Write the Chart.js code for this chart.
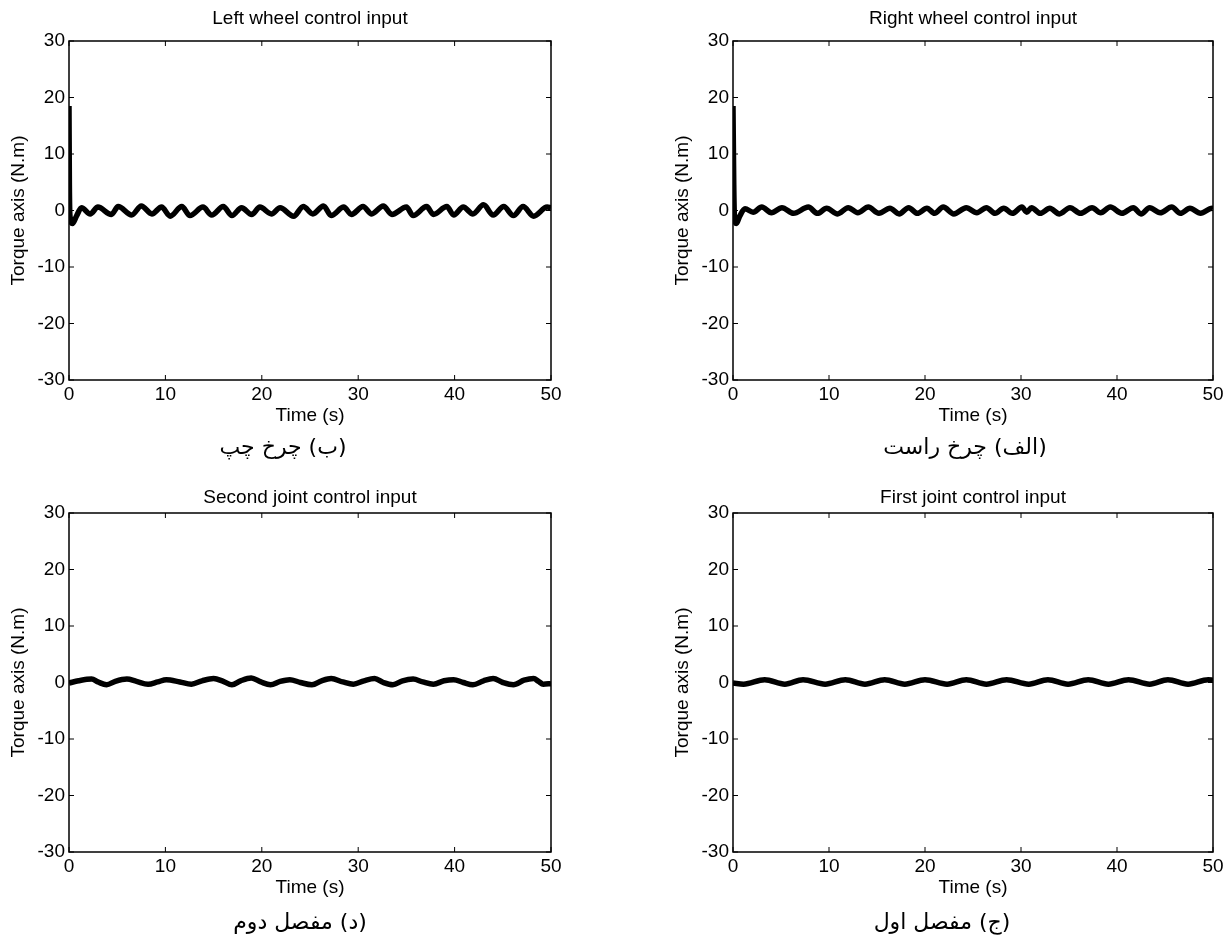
<!DOCTYPE html>
<html>
<head>
<meta charset="utf-8">
<script src="https://cdn.jsdelivr.net/npm/chart.js@4.4.1/dist/chart.umd.min.js"></script>
<style>
  html, body { margin: 0; padding: 0; background: #fff; }
  body { width: 1232px; height: 945px; position: relative; overflow: hidden; }
  canvas { position: absolute; }
  .cap { position: absolute; width: 300px; text-align: center; font-family: 'DejaVu Sans', sans-serif; font-size: 22px; line-height: 26px; color: #000; }
</style>
</head>
<body>
<canvas id="c1" width="616" height="472" style="left:0px;top:0px"></canvas>
<canvas id="c2" width="568" height="472" style="left:664px;top:0px"></canvas>
<canvas id="c3" width="616" height="473" style="left:0px;top:472px"></canvas>
<canvas id="c4" width="568" height="473" style="left:664px;top:472px"></canvas>
<div class="cap" dir="rtl" style="left:133px;top:434px">(ب) چرخ چپ</div>
<div class="cap" dir="rtl" style="left:815px;top:434px">(الف) چرخ راست</div>
<div class="cap" dir="rtl" style="left:150px;top:909px">(د) مفصل دوم</div>
<div class="cap" dir="rtl" style="left:792px;top:909px">(ج) مفصل اول</div>
<script>
// tick values
const xTicks = [0, 10, 20, 30, 40, 50];
const yTicks = [-30, -20, -10, 0, 10, 20, 30];
const titles = ['Left wheel control input', 'Right wheel control input', 'Second joint control input', 'First joint control input'];

// [time (s), torque (N.m)]
const leftWheel = [
  [0, 18.5], [0.04, 4.5], [0.1, -1.0], [0.35, -2.3], [0.8, -0.9],
  [1.3, 0.5], [2.2, -0.6], [3.0, 0.6], [4.4, -0.7], [5.1, 0.7], [6.5, -0.8],
  [7.5, 0.8], [8.6, -0.6], [9.6, 0.6], [10.5, -1.0], [11.7, 0.7], [12.55, -0.9],
  [13.9, 0.6], [14.8, -0.8], [16.0, 0.7], [16.9, -0.9], [17.9, 0.5], [18.95, -0.7],
  [19.8, 0.6], [21.0, -0.6], [21.9, 0.5], [23.3, -1.0], [24.3, 0.7], [25.3, -0.6],
  [26.4, 0.8], [27.2, -0.9], [28.5, 0.6], [29.3, -0.7], [30.5, 0.7], [31.4, -0.6],
  [32.6, 0.8], [33.5, -0.7], [35.0, 0.6], [35.7, -0.9], [37.1, 0.7], [37.8, -0.7],
  [39.2, 0.7], [39.9, -0.8], [40.9, 0.6], [41.9, -0.6], [43.0, 1.0], [44.0, -0.8],
  [45.1, 0.7], [46.1, -0.9], [47.1, 0.7], [48.2, -1.0], [49.6, 0.6], [50, 0.5]
];
const rightWheel = [
  [0, 18.5], [0.08, 4.5], [0.15, -1.0], [0.35, -2.3], [0.7, -1.0],
  [1.25, 0.3], [2.1, -0.3], [3.0, 0.6], [4.0, -0.4], [5.1, 0.5], [6.3, -0.5],
  [7.85, 0.6], [8.8, -0.5], [9.75, 0.4], [10.9, -0.6], [12.0, 0.5], [13.0, -0.4],
  [14.1, 0.6], [15.2, -0.5], [16.35, 0.4], [17.3, -0.6], [18.3, 0.5], [19.2, -0.5],
  [20.2, 0.4], [21.0, -0.5], [21.9, 0.6], [23.0, -0.6], [24.3, 0.5], [25.4, -0.4],
  [26.4, 0.5], [27.3, -0.5], [28.2, 0.4], [29.1, -0.5], [30.1, 0.6], [30.6, -0.3],
  [31.1, 0.5], [32.0, -0.5], [33.0, 0.4], [34.0, -0.6], [35.1, 0.5], [36.2, -0.5],
  [37.4, 0.5], [38.3, -0.4], [39.3, 0.6], [40.5, -0.5], [41.7, 0.5], [42.5, -0.6],
  [43.4, 0.5], [44.5, -0.4], [45.7, 0.6], [46.6, -0.5], [47.6, 0.4], [48.7, -0.5],
  [49.9, 0.4], [50, 0.3]
];
const secondJoint = [
  [0, -0.1], [1.0, 0.3], [2.35, 0.6], [3.0, 0.1], [3.9, -0.4], [4.8, 0.2],
  [6.0, 0.6], [7.0, 0.2], [8.2, -0.3], [9.2, 0.1], [10.1, 0.5], [11.5, 0.1],
  [12.7, -0.3], [13.8, 0.3], [15.0, 0.7], [16.0, 0.2], [16.9, -0.4], [17.8, 0.3],
  [18.9, 0.8], [19.9, 0.1], [20.9, -0.4], [21.9, 0.2], [22.9, 0.5], [24.0, 0.0],
  [25.2, -0.4], [26.2, 0.3], [27.2, 0.7], [28.4, 0.1], [29.5, -0.3], [30.6, 0.3],
  [31.7, 0.7], [32.6, 0.0], [33.6, -0.4], [34.6, 0.3], [35.7, 0.6], [36.7, 0.1],
  [37.8, -0.3], [38.9, 0.3], [39.9, 0.5], [40.9, 0.0], [41.9, -0.4], [43.0, 0.3],
  [44.0, 0.7], [45.0, 0.0], [46.1, -0.4], [47.2, 0.4], [48.2, 0.7], [48.7, 0.2],
  [49.2, -0.3], [50, -0.2]
];
const firstJoint = [
  [0, -0.1], [1.1, -0.3], [3.3, 0.5], [5.4, -0.3], [7.3, 0.5], [9.6, -0.3],
  [11.7, 0.5], [13.75, -0.3], [15.8, 0.5], [17.9, -0.3], [20.0, 0.5], [22.3, -0.3],
  [24.3, 0.5], [26.4, -0.3], [28.5, 0.5], [30.8, -0.3], [32.8, 0.5], [34.9, -0.3],
  [37.0, 0.5], [39.1, -0.3], [41.2, 0.5], [43.4, -0.3], [45.3, 0.5], [47.4, -0.3],
  [49.5, 0.5], [50, 0.4]
];

const FONT = "'Liberation Sans', Arial, sans-serif";
const FS = 19;

// box around the plot with inward ticks on all four sides
const boxTicks = {
  id: 'boxTicks',
  afterDatasetsDraw(chart) {
    const {ctx, chartArea: a, scales: {x, y}} = chart;
    ctx.save();
    ctx.strokeStyle = '#000';
    ctx.lineWidth = 1.5;
    ctx.strokeRect(a.left, a.top, a.right - a.left, a.bottom - a.top);
    ctx.lineWidth = 1;
    ctx.beginPath();
    x.ticks.forEach(t => {
      const px = x.getPixelForValue(t.value);
      ctx.moveTo(px, a.bottom); ctx.lineTo(px, a.bottom - 5);
      ctx.moveTo(px, a.top); ctx.lineTo(px, a.top + 5);
    });
    y.ticks.forEach(t => {
      const py = y.getPixelForValue(t.value);
      ctx.moveTo(a.left, py); ctx.lineTo(a.left + 5, py);
      ctx.moveTo(a.right, py); ctx.lineTo(a.right - 5, py);
    });
    ctx.stroke();
    ctx.restore();
  }
};

function panel(id, title, series, g) {
  const lh = FS * 1.2;
  const padTop = g.titleY - g.cy - lh / 2;
  const padBottom = g.top - g.cy - padTop - lh;
  const canvas = document.getElementById(id);
  new Chart(canvas, {
    type: 'line',
    data: {
      datasets: [{
        data: series.map(p => ({x: p[0], y: p[1]})),
        borderColor: '#000',
        borderWidth: 5.5,
        pointRadius: 0,
        cubicInterpolationMode: 'monotone',
        fill: false
      }]
    },
    options: {
      responsive: false,
      animation: false,
      events: [],
      layout: {padding: {left: 0, top: 0, right: g.cx + g.w - g.right, bottom: g.cy + g.h - g.bottom - 48}},
      plugins: {
        legend: {display: false},
        tooltip: {enabled: false},
        title: {
          display: true, text: title, color: '#000', fullSize: false,
          font: {family: FONT, size: FS, weight: 'normal', lineHeight: 1.2},
          padding: {top: padTop, bottom: padBottom}
        }
      },
      scales: {
        x: {
          type: 'linear', min: 0, max: 50,
          afterBuildTicks: s => { s.ticks = xTicks.map(v => ({value: v})); },
          afterFit: s => { s.height = 48; },
          grid: {display: false, drawTicks: false},
          border: {display: false},
          ticks: {color: '#000', padding: 3, maxRotation: 0, font: {family: FONT, size: FS}},
          title: {display: true, text: 'Time (s)', color: '#000', padding: {top: 0, bottom: 0.6}, font: {family: FONT, size: FS}}
        },
        y: {
          type: 'linear', min: -30, max: 30,
          afterBuildTicks: s => { s.ticks = yTicks.map(v => ({value: v})); },
          afterFit: s => { s.width = g.left - g.cx; },
          grid: {display: false, drawTicks: false},
          border: {display: false},
          ticks: {color: '#000', padding: 4, font: {family: FONT, size: FS}},
          title: {display: true, text: 'Torque axis (N.m)', color: '#000', padding: {top: 7.6, bottom: 0}, font: {family: FONT, size: FS}}
        }
      }
    },
    plugins: [boxTicks]
  });
}

panel('c1', titles[0], leftWheel,  {cx: 0,   cy: 0,   w: 616, h: 472, left: 69,  right: 551,  top: 41,  bottom: 380, titleY: 19});
panel('c2', titles[1], rightWheel, {cx: 664, cy: 0,   w: 568, h: 472, left: 733, right: 1213, top: 41,  bottom: 380, titleY: 19});
panel('c3', titles[2], secondJoint,{cx: 0,   cy: 472, w: 616, h: 473, left: 69,  right: 551,  top: 513, bottom: 852, titleY: 498});
panel('c4', titles[3], firstJoint, {cx: 664, cy: 472, w: 568, h: 473, left: 733, right: 1213, top: 513, bottom: 852, titleY: 498});
</script>
</body>
</html>
